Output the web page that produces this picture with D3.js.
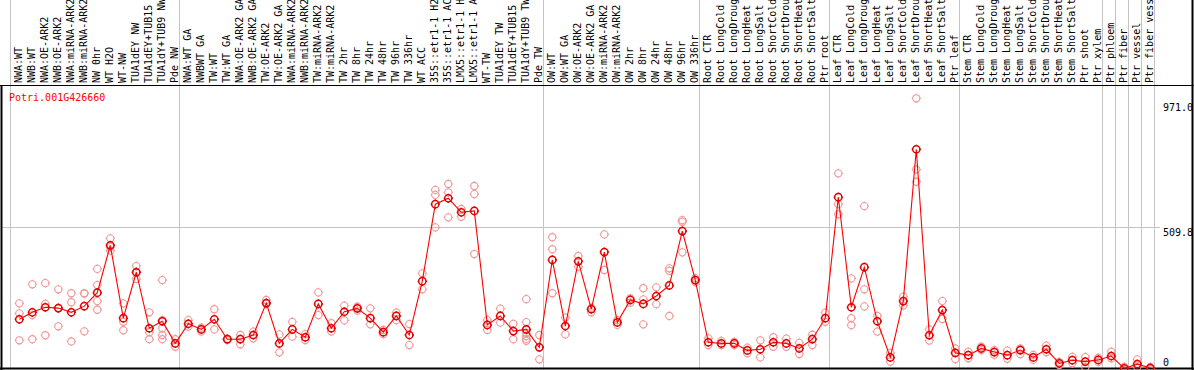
<!DOCTYPE html>
<html lang="en">
<head>
<meta charset="UTF-8">
<title>Potri.001G426660 expression</title>
<script src="https://d3js.org/d3.v7.min.js"></script>
<style>
  body { margin: 0; background: #fff; }
  svg { display: block; }
  text { font-family: "DejaVu Sans Mono", monospace; font-size: 10px; }
</style>
</head>
<body>
<svg width="1194" height="370"></svg>
<script>
// sample names, left to right
const samples = [
  'NWA:WT', 'NWB:WT', 'NWA:OE-ARK2', 'NWB:OE-ARK2', 'NWA:miRNA-ARK2', 'NWB:miRNA-ARK2',
  'NW 0hr', 'WT H2O', 'WT-NW', 'TUA1dEY NW', 'TUA1dEY+TUB15 NW', 'TUA1dY+TUB9 NW', 'Pde NW',
  'NWA:WT GA', 'NWBWT GA', 'TW:WT', 'TW:WT GA', 'NWA:OE-ARK2 GA', 'NWB:OE-ARK2 GA',
  'TW:OE-ARK2', 'TW:OE-ARK2 GA', 'NWA:miRNA-ARK2', 'NWB:miRNA-ARK2', 'TW:miRNA-ARK2',
  'TW:miRNA-ARK2', 'TW 2hr', 'TW 8hr', 'TW 24hr', 'TW 48hr', 'TW 96hr', 'TW 336hr', 'WT ACC',
  '35S::etr1-1 H2O', '35S::etr1-1 ACC', 'LMX5::etr1-1 H2O', 'LMX5::etr1-1 ACC', 'WT-TW',
  'TUA1dEY TW', 'TUA1dEY+TUB15 TW', 'TUA1dY+TUB9 TW', 'Pde TW',
  'OW:WT', 'OW:WT GA', 'OW:OE-ARK2', 'OW:OE-ARK2 GA', 'OW:miRNA-ARK2', 'OW:miRNA-ARK2',
  'OW 2hr', 'OW 8hr', 'OW 24hr', 'OW 48hr', 'OW 96hr', 'OW 336hr',
  'Root CTR', 'Root LongCold', 'Root LongDrought', 'Root LongHeat', 'Root LongSalt',
  'Root ShortCold', 'Root ShortDrought', 'Root ShortHeat', 'Root ShortSalt', 'Ptr root',
  'Leaf CTR', 'Leaf LongCold', 'Leaf LongDrought', 'Leaf LongHeat', 'Leaf LongSalt',
  'Leaf ShortCold', 'Leaf ShortDrought', 'Leaf ShortHeat', 'Leaf ShortSalt', 'Ptr leaf',
  'Stem CTR', 'Stem LongCold', 'Stem LongDrought', 'Stem LongHeat', 'Stem LongSalt',
  'Stem ShortCold', 'Stem ShortDrought', 'Stem ShortHeat', 'Stem ShortSalt', 'Ptr shoot',
  'Ptr xylem', 'Ptr phloem', 'Ptr fiber', 'Ptr vessel', 'Ptr fiber vessel'
];

// number of samples in each block between the grey separators
const groupSizes = [13, 28, 12, 10, 10, 11, 1, 1, 1, 1];

// mean expression per sample
const means = [
  181, 206, 224, 221, 206, 228, 276, 445, 185, 349, 149, 174, 95,
  165, 145, 181, 110, 110, 125, 239, 95, 145, 117, 236, 149, 208, 220, 185, 135, 193, 125,
  317, 592, 613, 563, 568, 161, 193, 139, 145, 81,
  393, 157, 388, 217, 421, 170, 250, 236, 264, 302, 496, 321,
  99, 95, 95, 70, 74, 99, 95, 77, 110, 185,
  617, 224, 367, 174, 45, 246, 788, 124, 214, 61,
  53, 77, 64, 53, 71, 45, 74, 24, 35, 30, 36,
  50, 6, 21, 7
];

// individual replicates per sample
const reps = [
  [238, 202, 106], [306, 196, 110], [310, 236, 124], [288, 156, 220], [274, 242, 102],
  [274, 138, 273], [361, 303, 246, 215], [470, 439, 426], [238, 172, 142], [371, 325, 350],
  [206, 135, 110], [321, 178, 149, 125, 110], [110, 83],
  [178, 155], [151, 137], [217, 145], [107, 112], [125, 92], [137, 113], [250, 236],
  [127, 63], [172, 119], [128, 107], [277, 196], [167, 137], [230, 177], [226, 212],
  [220, 163], [143, 128], [205, 178], [164, 89],
  [345, 288], [643, 625, 509], [664, 634, 545], [575, 547], [657, 628, 414], [178, 143],
  [219, 169], [165, 110], [253, 171, 143, 132, 121, 111, 104], [125, 38],
  [474, 431, 274], [187, 127], [407, 369], [222, 206], [484, 357], [178, 161], [256, 240],
  [292, 252, 163], [295, 235], [363, 354, 193], [535, 529, 420], [328, 314],
  [113, 89], [104, 89], [100, 89], [80, 60], [106, 45], [117, 83], [112, 83], [97, 57],
  [126, 89], [205, 172],
  [702, 592, 556], [327, 185, 160], [585, 288, 227], [193, 137], [61, 30], [262, 230],
  [970, 716, 672], [145, 105], [246, 182], [77, 39],
  [65, 42], [83, 71], [71, 54], [69, 40], [77, 57], [54, 36], [87, 64], [29, 18],
  [47, 24], [46, 10], [43, 29],
  [65, 42], [11, 0], [38, 11], [11, 2]
];

const geneId = 'Potri.001G426660';
const yTicks = [0, 509.8, 971.0];

const W = 1194, H = 370;
const svg = d3.select('svg');

const x = d3.scaleBand().domain(d3.range(samples.length)).range([11, 1155]);
const cx = i => x(i) + 8.3;
const y = d3.scaleLinear().domain([0, 971.0]).range([370, 98]);

// grey separators between sample blocks
const bounds = [0];
groupSizes.forEach(n => bounds.push(bounds[bounds.length - 1] + n));
svg.append('g')
  .selectAll('line')
  .data(bounds)
  .join('line')
  .attr('x1', k => Math.round(k < samples.length ? x(k) : x.range()[1]) - 0.5)
  .attr('x2', k => Math.round(k < samples.length ? x(k) : x.range()[1]) - 0.5)
  .attr('y1', 0)
  .attr('y2', H)
  .attr('stroke', '#c4c4c4');

// horizontal reference line
svg.append('line')
  .attr('x1', 2).attr('x2', 1160)
  .attr('y1', Math.round(y(509.8)) + 0.5).attr('y2', Math.round(y(509.8)) + 0.5)
  .attr('stroke', '#c4c4c4');

// rotated sample labels
svg.append('g')
  .selectAll('text')
  .data(samples)
  .join('text')
  .attr('transform', (d, i) => `translate(${x(i) + 10.5},83) rotate(-90)`)
  .attr('fill', '#000')
  .text(d => d);

// frame
svg.append('line').attr('x1', 0).attr('x2', W).attr('y1', 85.5).attr('y2', 85.5).attr('stroke', '#000');
svg.append('line').attr('x1', 1.5).attr('x2', 1.5).attr('y1', 85).attr('y2', H).attr('stroke', '#000').attr('stroke-width', 2);
svg.append('line').attr('x1', 0).attr('x2', W).attr('y1', 368.5).attr('y2', 368.5).attr('stroke', '#000').attr('stroke-width', 2);
svg.append('line').attr('x1', 1192.5).attr('x2', 1192.5).attr('y1', 0).attr('y2', H).attr('stroke', '#000').attr('stroke-width', 2);

// gene id
svg.append('text').attr('x', 9).attr('y', 101).attr('fill', '#ff0000').text(geneId);

// value labels on the right
svg.append('g')
  .selectAll('text')
  .data(yTicks)
  .join('text')
  .attr('x', 1163)
  .attr('y', d => Math.max(111, Math.min(y(d) + 9, 366)))
  .attr('fill', '#000')
  .text(d => d === 0 ? '0' : d.toFixed(1));

function marker(g, r) {
  g.append('circle').attr('r', r).attr('fill', 'none');
  [[0, -1], [0, 1], [-1, 0], [1, 0]].forEach(([dx, dy]) => {
    g.append('line')
      .attr('x1', dx * r).attr('y1', dy * r)
      .attr('x2', dx * (r + 1)).attr('y2', dy * (r + 1));
  });
}

// replicates
const repPts = [];
reps.forEach((vs, i) => vs.forEach(v => repPts.push([i, v])));
svg.append('g')
  .attr('stroke', '#f09898')
  .attr('stroke-width', 1.1)
  .selectAll('g')
  .data(repPts)
  .join('g')
  .attr('transform', d => `translate(${cx(d[0])},${y(d[1])})`)
  .each(function () { marker(d3.select(this), 3.6); });

// mean line
svg.append('path')
  .datum(means)
  .attr('fill', 'none')
  .attr('stroke', '#ff0000')
  .attr('stroke-width', 1.1)
  .attr('d', d3.line().x((d, i) => cx(i)).y(d => y(d)));

// mean markers
svg.append('g')
  .attr('stroke', '#e00000')
  .attr('stroke-width', 1.5)
  .selectAll('g')
  .data(means)
  .join('g')
  .attr('transform', (d, i) => `translate(${cx(i)},${y(d)})`)
  .each(function () { marker(d3.select(this), 3.6); });
</script>
</body>
</html>
